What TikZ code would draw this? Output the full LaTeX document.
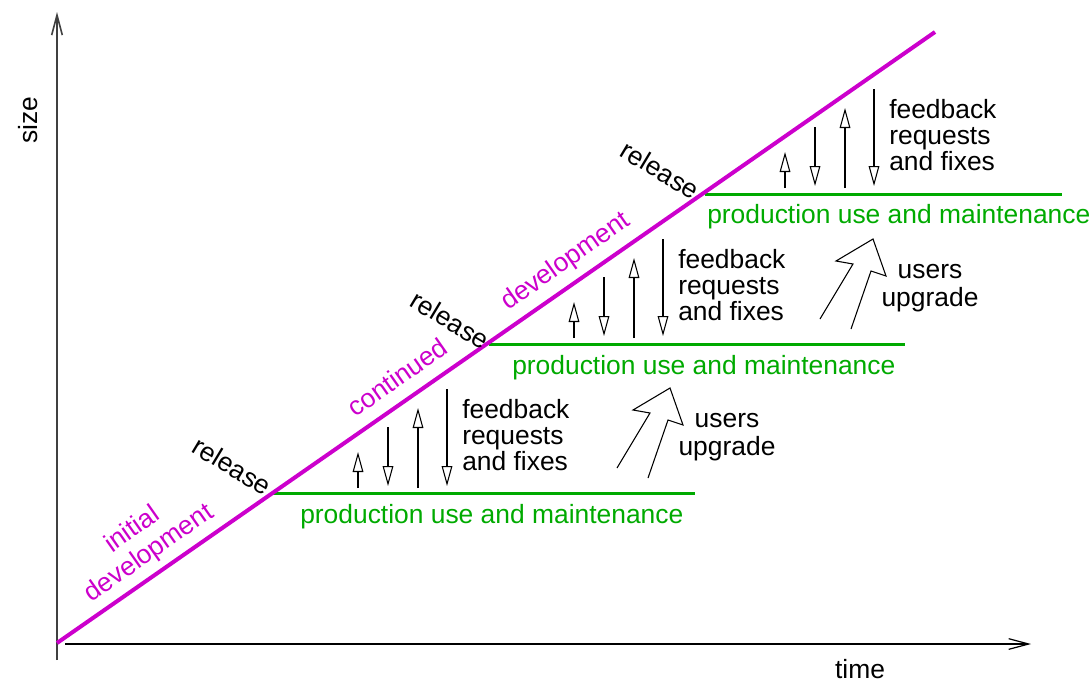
\documentclass[tikz,border=0pt]{standalone}
\usepackage{fontspec}
\setmainfont{Liberation Sans}
\usetikzlibrary{arrows.meta}
\definecolor{devmag}{RGB}{204,0,204}
\definecolor{prodgreen}{RGB}{0,170,0}
\begin{document}
\begin{tikzpicture}[x=0.75pt,y=-0.75pt,
  font=\fontsize{19.8}{19.5}\selectfont,
  axis/.style={line width=0.9pt, -{Straight Barb[length=15pt,width=8pt]}},
  devline/.style={devmag, line width=3pt},
  prodline/.style={prodgreen, line width=2.2pt},
  fbarrow/.style={line width=0.8pt, -{Triangle[open,length=15pt,width=8pt]}},
  devlabel/.style={text=devmag, rotate=35, inner sep=0pt, align=center, font=\fontsize{19.8}{21.5}\selectfont},
  rellabel/.style={rotate=-31, inner sep=0pt},
  prodlabel/.style={text=prodgreen, inner sep=0pt, anchor=base west},
  fbtext/.style={align=left, anchor=north west, inner sep=0pt},
  uptext/.style={align=center, anchor=north, inner sep=0pt, font=\fontsize{19.8}{21}\selectfont},
  upgarrow/.style={line width=0.8pt, line join=miter}
]
\useasboundingbox (0,0) rectangle (1091,683);

% axes
\coordinate (yb) at (57,660);
\coordinate (yt) at (57,12);
\coordinate (xl) at (65,644);
\coordinate (xr) at (1031,644);
\draw[axis, draw=black!75, line width=1.2pt] (yb) -- (yt);
\draw[axis] (xl) -- (xr);
\node[rotate=90, inner sep=0pt] (size) at (28,120) {size};
\node[anchor=base, inner sep=0pt] (time) at (860,678) {time};

% release points and production lines
\coordinate (r1) at (273,493.5);
\coordinate (r2) at (489,344.5);
\coordinate (r3) at (705,194.5);
\coordinate (g1) at (695,493.5);
\coordinate (g2) at (905,344.5);
\coordinate (g3) at (1062,194.5);
\draw[prodline] (r1) -- (g1);
\draw[prodline] (r2) -- (g2);
\draw[prodline] (r3) -- (g3);

% development line
\coordinate (o) at (57,643);
\coordinate (e) at (935,32);
\draw[devline] (o) -- (e);

% labels on development line
\node[devlabel] (init) at (141,542) {initial\\development};
\node[devlabel] (cont) at (397,377) {continued};
\node[devlabel] (dev) at (566,262) {development};
\node[rellabel] (rel1) at (232,466) {release};
\node[rellabel] (rel2) at (450,320) {release};
\node[rellabel] (rel3) at (660,170) {release};

% production labels
\node[prodlabel] (p1) at (300,523) {production use and maintenance};
\node[prodlabel] (p2) at (512,374) {production use and maintenance};
\node[prodlabel] (p3) at (707,223) {production use and maintenance};

% feedback arrows
\foreach \g/\dx/\dy in {1/0/0, 2/216/-150, 3/427/-300} {
  \begin{scope}[shift={(\dx,\dy)}]
    \coordinate (f\g a0) at (358,488); \coordinate (f\g a1) at (358,452);
    \coordinate (f\g b0) at (388,427); \coordinate (f\g b1) at (388,486);
    \coordinate (f\g c0) at (418,488); \coordinate (f\g c1) at (418,408);
    \coordinate (f\g d0) at (447,389); \coordinate (f\g d1) at (447,486);
    \draw[fbarrow] (f\g a0) -- (f\g a1);
    \draw[fbarrow] (f\g b0) -- (f\g b1);
    \draw[fbarrow] (f\g c0) -- (f\g c1);
    \draw[fbarrow] (f\g d0) -- (f\g d1);
    \node[fbtext] (fbt\g) at (462,399) {feedback\\requests\\and fixes};
  \end{scope}
}

% users upgrade arrows
\foreach \g/\dx/\dy in {1/0/0, 2/203/-149} {
  \begin{scope}[shift={(\dx,\dy)}]
    \draw[upgarrow] (617,468) -- (650,413) -- (633,410) -- (670,388)
      -- (683,425) -- (668,420) -- (648,478);
    \node[uptext] (up\g) at (727,413) {users\\upgrade};
  \end{scope}
}
\end{tikzpicture}
\end{document}
